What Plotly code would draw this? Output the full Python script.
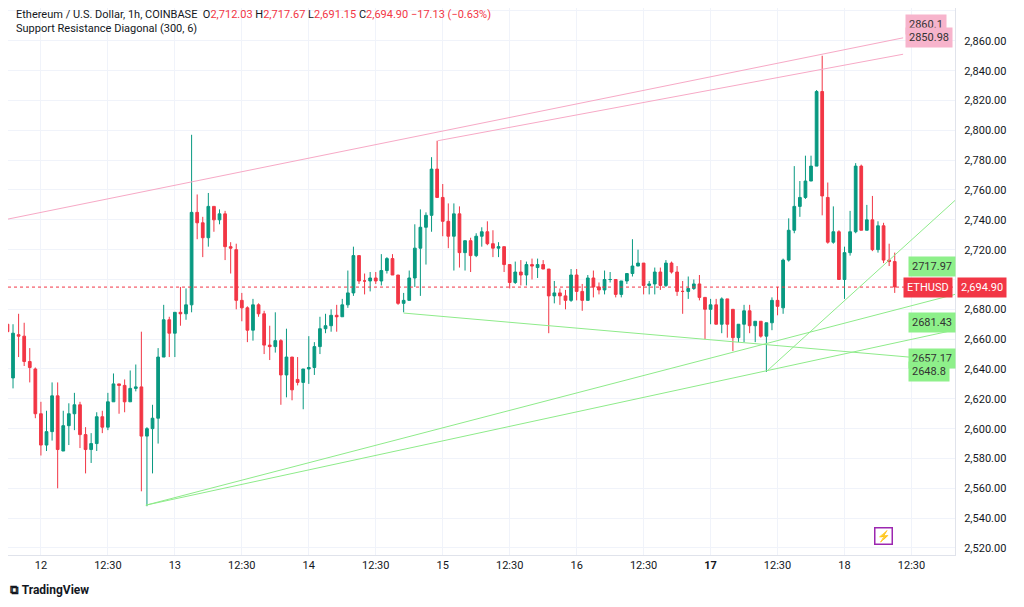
import plotly.graph_objects as go

# OHLC per hourly candle (hour index relative to day 12 00:00 = first hour - 6)
opens = [2670,2634,2663,2662,2645,2640,2610,2589,2598,2622,2585,2602,2610,2616,2596,2586,2590,2608,2601,2618,2630,2629,2618,2627,2628,2595,2600,2607,
 2648,2673,2664,2678,2677,2683,2745,2738,2728,2749,2740,2744,2722,2720,2686,2681,2666,2683,2677,2656,2655,2659,2636,2648,2633,2631,2640,
 2641,2655,2667,2669,2676,2675,2683,2691,2716,2699,2699,2701,2699,2706,2714,2703,2684,2686,2701,2721,2735,2743,2774,2755,2739,2729,
 2744,2718,2726,2716,2729,2732,2724,2721,2722,2710,2698,2705,2703,2710,2708,2710,2707,2689,2691,2689,2686,2703,2692,2686,2701,2695,2693,
 2700,2700,2690,2699,2704,2709,2711,2696,2697,2705,2696,2711,2705,2692,2692,2694,2697,2688,2680,2683,2670,2687,2680,2661,2670,2679,2669,2672,2662,2671,
 2686,2681,2713,2733,2749,2755,2766,2776,2826,2755,2725,2732,2700,2718,2732,2776,2733,2740,2720,2736,2713,2712]
closes = [2665,2664,2662,2645,2641,2610,2589,2598,2622,2586,2602,2610,2616,2596,2586,2590,2608,2601,2618,2630,2629,2618,2627,2628,2595,2600,2607,2648,
 2673,2664,2678,2677,2683,2745,2738,2728,2749,2740,2744,2722,2721,2686,2681,2666,2683,2677,2656,2655,2659,2636,2648,2626,2631,2640,2641,
 2655,2667,2669,2676,2675,2683,2691,2716,2699,2699,2701,2699,2706,2714,2703,2684,2686,2701,2721,2735,2743,2774,2755,2739,2729,2744,
 2718,2726,2716,2729,2732,2724,2721,2722,2710,2698,2705,2703,2710,2709,2710,2707,2689,2691,2689,2686,2703,2692,2686,2701,2695,2693,2700,
 2700,2690,2699,2704,2709,2711,2696,2697,2705,2696,2711,2705,2692,2692,2694,2697,2688,2680,2683,2670,2687,2670,2661,2670,2679,2669,2672,2662,2671,2686,
 2682,2713,2733,2749,2755,2766,2776,2826,2756,2725,2732,2700,2718,2732,2776,2733,2740,2720,2736,2713,2712,2695]
highs = [2686,2670,2677,2671,2654,2641,2618,2612,2631,2631,2612,2617,2624,2618,2601,2597,2611,2612,2624,2637,2630,2633,2639,2643,2665,2601,2616,2654,
 2683,2675,2678,2695,2694,2797,2757,2742,2758,2749,2747,2746,2725,2724,2691,2682,2687,2684,2679,2669,2678,2660,2667,2648,2648,2640,2662,
 2658,2675,2677,2680,2683,2687,2706,2722,2716,2704,2705,2705,2717,2715,2717,2703,2691,2706,2737,2747,2745,2782,2793,2764,2751,2751,
 2749,2726,2728,2731,2735,2739,2733,2725,2722,2710,2712,2713,2712,2714,2714,2713,2707,2699,2694,2693,2707,2707,2697,2703,2706,2698,2706,
 2705,2700,2699,2704,2727,2720,2711,2699,2708,2708,2713,2712,2709,2699,2702,2700,2703,2688,2687,2687,2688,2687,2680,2670,2683,2683,2672,2672,2671,2688,
 2695,2714,2741,2776,2766,2783,2783,2827,2850,2765,2749,2733,2722,2746,2778,2777,2750,2756,2739,2738,2724,2718]
lows = [2635,2627,2648,2642,2631,2607,2582,2585,2592,2560,2585,2589,2599,2587,2570,2577,2585,2597,2599,2618,2610,2611,2618,2625,2558,2548,2570,2590,
 2648,2648,2648,2669,2673,2678,2727,2715,2722,2732,2737,2713,2704,2680,2672,2658,2659,2675,2650,2646,2651,2616,2621,2619,2629,2613,2630,
 2636,2650,2664,2665,2665,2675,2681,2689,2697,2690,2692,2697,2696,2704,2703,2683,2678,2686,2695,2689,2710,2732,2755,2729,2721,2706,
 2708,2706,2705,2715,2722,2723,2715,2715,2705,2694,2697,2696,2696,2700,2701,2707,2664,2684,2683,2680,2685,2686,2679,2686,2688,2690,2690,
 2698,2688,2688,2697,2702,2709,2690,2690,2690,2693,2695,2704,2689,2677,2687,2693,2686,2660,2670,2670,2664,2661,2652,2658,2658,2664,2658,2661,2638,2666,
 2676,2677,2712,2731,2742,2754,2766,2776,2743,2724,2724,2700,2687,2716,2731,2733,2733,2719,2718,2711,2709,2691]
hours = [i - 6 for i in range(len(opens))]

tick_vals = [0, 12, 24, 36, 48, 60, 72, 84, 96, 108, 120, 132, 144, 156]
tick_text = ["12", "12:30", "13", "12:30", "14", "12:30", "15", "12:30", "16", "12:30", "<b>17</b>", "12:30", "18", "12:30"]
price_ticks = list(range(2520, 2881, 20))
price_tick_text = ["" if p == 2700 else f"{p:,.2f}" for p in price_ticks]

pink_lines = [((-5.9, 2740.5), (154.5, 2862.0)), ((71.1, 2793.0), (154.5, 2851.0))]
green_lines = [((18.8, 2548.7), (163.8, 2690.0)), ((18.8, 2548.7), (164.2, 2666.5)),
               ((65.0, 2677.5), (163.8, 2645.3)), ((130.3, 2639.3), (163.8, 2753.0))]
pink_labels = [("2860.1", 2871.0), ("2850.98", 2862.0)]
green_labels = [("2717.97", 2708.5), ("2681.43", 2671.5), ("2657.17", 2647.3), ("2648.8", 2638.6)]
last_price = 2694.90

GREEN, RED = "#089981", "#F23645"
fig = go.Figure()
fig.add_trace(go.Candlestick(x=hours, open=opens, high=highs, low=lows, close=closes,
    increasing=dict(line=dict(color=GREEN, width=1), fillcolor=GREEN),
    decreasing=dict(line=dict(color=RED, width=1), fillcolor=RED),
    whiskerwidth=0, showlegend=False, hoverinfo="skip"))
for (a, b) in pink_lines:
    fig.add_trace(go.Scatter(x=[a[0], b[0]], y=[a[1], b[1]], mode="lines",
        line=dict(color="#F7A9C6", width=1), showlegend=False, hoverinfo="skip"))
for (a, b) in green_lines:
    fig.add_trace(go.Scatter(x=[a[0], b[0]], y=[a[1], b[1]], mode="lines",
        line=dict(color="#8EEB8A", width=1), showlegend=False, hoverinfo="skip"))

fig.add_hline(y=last_price, line=dict(color=RED, width=1, dash="dot"))

for t, y in pink_labels:
    fig.add_annotation(x=154.8, y=y, xref="x", yref="y", text=t, showarrow=False, xanchor="left",
        bgcolor="#F7B4CC", font=dict(size=11, color="#333"), borderpad=3)
for t, y in green_labels:
    fig.add_annotation(x=155.3, y=y, xref="x", yref="y", text=t, showarrow=False, xanchor="left",
        bgcolor="#8EF08A", font=dict(size=11, color="#333"), borderpad=3)
fig.add_annotation(x=1.0, y=last_price, xref="paper", yref="y", text="ETHUSD", showarrow=False, xanchor="right",
    xshift=-2, bgcolor=RED, font=dict(size=11, color="white"), borderpad=3)
fig.add_annotation(x=1.0, y=last_price, xref="paper", yref="y", text="2,694.90", showarrow=False, xanchor="left",
    xshift=2, bgcolor=RED, font=dict(size=11, color="white"), borderpad=3)

fig.add_annotation(x=0.0, y=1.0, xref="paper", yref="paper", xanchor="left", yanchor="top", showarrow=False,
    xshift=6, yshift=2, align="left",
    text=("Ethereum / U.S. Dollar, 1h, COINBASE  O<span style='color:#F23645'>2,712.03</span> "
          "H<span style='color:#F23645'>2,717.67</span> L<span style='color:#F23645'>2,691.15</span> "
          "C<span style='color:#F23645'>2,694.90 −17.13 (−0.63%)</span><br>Support Resistance Diagonal (300, 6)"),
    font=dict(size=11, color="#131722"))
fig.add_annotation(x=0, y=0, xref="paper", yref="paper", xanchor="left", yanchor="top", showarrow=False,
    yshift=-26, xshift=0, text="<b>⧉ TradingView</b>", font=dict(size=12, color="#131722"))
fig.add_annotation(x=151, y=2528, xref="x", yref="y", showarrow=False, text="⚡",
    font=dict(size=11, color="#9C27B0"), bgcolor="white", bordercolor="#9C27B0", borderwidth=1.5, borderpad=1)

fig.update_layout(width=1016, height=599, margin=dict(l=0, r=69, t=0, b=52),
    paper_bgcolor="white", plot_bgcolor="white", font=dict(family="Roboto, sans-serif", color="#131722"),
    xaxis=dict(range=[-5.9, 163.8], tickvals=tick_vals, ticktext=tick_text, showgrid=True, gridcolor="#F0F3FA",
               rangeslider=dict(visible=False), zeroline=False, ticks="", tickfont=dict(size=11),
               showline=True, linecolor="#E0E3EB"),
    yaxis=dict(range=[2515.3, 2882.0], side="right", tickvals=price_ticks, ticktext=price_tick_text, showgrid=True,
               gridcolor="#F0F3FA", zeroline=False, tickfont=dict(size=11), showline=True, linecolor="#E0E3EB",
               ticks="", ticklabelstandoff=6))
fig.write_html("out.html")
